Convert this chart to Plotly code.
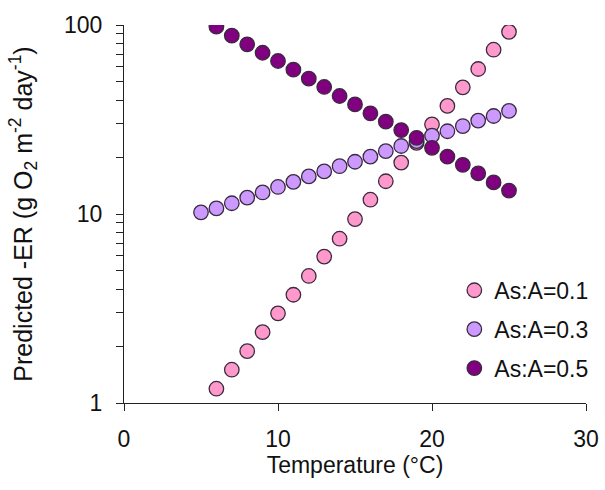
import plotly.graph_objects as go

temp_01 = [6, 7, 8, 9, 10, 11, 12, 13, 14, 15, 16, 17, 18, 19, 20, 21, 22, 23, 24, 25]
er_01 = [1.19, 1.50, 1.88, 2.37, 2.98, 3.74, 4.7, 5.95, 7.4, 9.4, 11.9, 14.9, 18.7, 23.8, 29.8, 37.3, 46.8, 58.5, 74, 92]

temp_03 = [5, 6, 7, 8, 9, 10, 11, 12, 13, 14, 15, 16, 17, 18, 19, 20, 21, 22, 23, 24, 25]
er_03 = [10.2, 10.7, 11.4, 12.2, 13.0, 13.9, 14.8, 15.8, 16.8, 17.9, 18.9, 20.1, 21.5, 22.9, 24.3, 26.0, 27.4, 29.2, 31.2, 33.0, 35.1]

temp_05 = [6, 7, 8, 9, 10, 11, 12, 13, 14, 15, 16, 17, 18, 19, 20, 21, 22, 23, 24, 25]
er_05 = [98, 87.8, 79, 71.3, 64.5, 58, 52, 47, 42.1, 38, 34.1, 30.8, 27.8, 25.3, 22.4, 20.1, 18.2, 16.4, 14.7, 13.3]

series_names = ["As:A=0.1", "As:A=0.3", "As:A=0.5"]
series_colors = ["#FF99CC", "#CC99FF", "#800080"]
x_ticks = [0, 10, 20, 30]
y_ticks = [1, 10, 100]

fig = go.Figure()
for i, (xs, ys) in enumerate([(temp_01, er_01), (temp_03, er_03), (temp_05, er_05)]):
    fig.add_trace(go.Scatter(
        x=xs, y=ys, mode="markers", name=series_names[i],
        legendgroup=str(i),
        marker=dict(size=14.5, color=series_colors[i],
                    line=dict(color="#3a2a40", width=1.3)),
    ))

font_family = "Liberation Sans, Arial, sans-serif"
fig.update_layout(
    width=605, height=490,
    paper_bgcolor="white", plot_bgcolor="white",
    margin=dict(l=124, r=14, t=25, b=87),
    font=dict(family=font_family, size=23, color="#111"),
    showlegend=True,
    legend=dict(x=0.715, y=0.355, xanchor="left", yanchor="top",
                bgcolor="rgba(0,0,0,0)", font=dict(size=23),
                tracegroupgap=6, itemwidth=30),
    xaxis=dict(range=[0, 30], tickvals=x_ticks, showgrid=False, zeroline=False,
               automargin=False,
               showline=True, linecolor="#222", linewidth=1.2,
               ticks="outside", ticklen=7, tickcolor="#222", tickwidth=1.2,
               tickfont=dict(size=23), ticklabelstandoff=8,
               title=dict(text="Temperature (°C)", font=dict(size=23), standoff=3)),
    yaxis=dict(type="log", range=[0, 2], tickvals=y_ticks, ticktext=["1", "10", "100"],
               automargin=False,
               showgrid=False, zeroline=False,
               showline=True, linecolor="#222", linewidth=1.2,
               ticks="outside", ticklen=7, tickcolor="#222", tickwidth=1.2,
               tickfont=dict(size=23), ticklabelstandoff=9,
               minor=dict(ticks="outside", ticklen=7, tickcolor="#222", tickwidth=1,
                          tickvals=[2, 3, 4, 5, 6, 7, 8, 9, 20, 30, 40, 50, 60, 70, 80, 90], showgrid=False),
               title=dict(text="Predicted -ER (g O<sub>2</sub> m<sup>-2</sup> day<sup>-1</sup>)",
                          font=dict(size=25), standoff=24)),
)

fig.write_html("out.html",
               config={"displayModeBar": False},
               post_script="document.body.style.margin='0';document.body.style.overflow='hidden';")
